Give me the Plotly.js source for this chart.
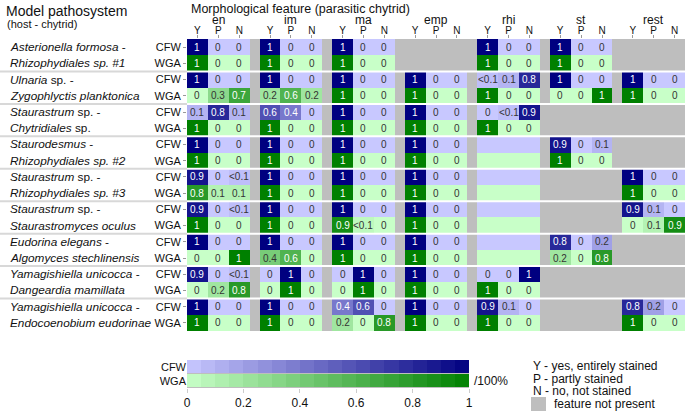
<!DOCTYPE html>
<html>
<head>
<meta charset="utf-8">
<script src="https://cdn.plot.ly/plotly-3.0.1.min.js"></script>
<style>
  html, body { margin: 0; padding: 0; background: #fff; }
  #chart { width: 685px; height: 413px; }
</style>
</head>
<body>
<div id="chart"></div>
<script>
// groups of morphological features, each with Y / P / N columns
var groups = ['en', 'im', 'ma', 'emp', 'rhi', 'st', 'rest'];
var subcols = ['Y', 'P', 'N'];
var stains = ['CFW', 'WGA'];

// two lines per pathosystem (host - chytrid)
var hostLines = [
    ['<i>Asterionella formosa</i> -', '<i>Rhizophydiales sp. #1</i>'],
    ['<i>Ulnaria</i> sp. -', '<i>Zygophlyctis planktonica</i>'],
    ['<i>Staurastrum</i> sp. -', '<i>Chytridiales</i> sp.'],
    ['<i>Staurodesmus</i> -', '<i>Rhizophydiales sp. #2</i>'],
    ['<i>Staurastrum</i> sp. -', '<i>Rhizophydiales sp. #3</i>'],
    ['<i>Staurastrum</i> sp. -', '<i>Staurastromyces oculus</i>'],
    ['<i>Eudorina elegans</i> -', '<i>Algomyces stechlinensis</i>'],
    ['<i>Yamagishiella unicocca</i> -', '<i>Dangeardia mamillata</i>'],
    ['<i>Yamagishiella unicocca</i> -', '<i>Endocoenobium eudorinae</i>']
];

// null = feature not present, '' = present but no value
var cfwVals = [
    [1, 0, 0,      1, 0, 0,      1, 0, 0,      null, null, null, 1, 0, 0,          1, 0, 0,          null, null, null],
    [1, 0, 0,      1, 0, 0,      1, 0, 0,      1, 0, 0,          '<0.1', 0.1, 0.8,   1, 0, 0,          1, 0, 0],
    [0.1, 0.8, 0.1, 0.6, 0.4, 0, 1, 0, 0,      1, 0, 0,          0, '<0.1', 0.9,     null, null, null, null, null, null],
    [1, 0, 0,      1, 0, 0,      1, 0, 0,      1, 0, 0,          '', '', '',         0.9, 0, 0.1,      null, null, null],
    [0.9, 0, '<0.1', 1, 0, 0,    1, 0, 0,      1, 0, 0,          '', '', '',         null, null, null, 1, 0, 0],
    [0.9, 0, '<0.1', 1, 0, 0,    1, 0, 0,      1, 0, 0,          '', '', '',         null, null, null, 0.9, 0.1, 0],
    [1, 0, 0,      1, 0, 0,      1, 0, 0,      1, 0, 0,          '', '', '',         0.8, 0, 0.2,      null, null, null],
    [0.9, 0, '<0.1', 0, 1, 0,    0, 1, 0,      1, 0, 0,          0, 0, 1,            null, null, null, null, null, null],
    [1, 0, 0,      1, 0, 0,      0.4, 0.6, 0,  1, 0, 0,          0.9, 0.1, 0,        null, null, null, 0.8, 0.2, 0]
];
var wgaVals = [
    [1, 0, 0,      1, 0, 0,      1, 0, 0,      null, null, null, 1, 0, 0,          1, 0, 0,          null, null, null],
    [0, 0.3, 0.7,  0.2, 0.6, 0.2, 1, 0, 0,     1, 0, 0,          1, 0, 0,            0, 0, 1,          1, 0, 0],
    [1, 0, 0,      1, 0, 0,      1, 0, 0,      1, 0, 0,          1, 0, 0,            null, null, null, null, null, null],
    [1, 0, 0,      1, 0, 0,      1, 0, 0,      1, 0, 0,          '', '', '',         1, 0, 0,          null, null, null],
    [0.8, 0.1, 0.1, 1, 0, 0,     1, 0, 0,      1, 0, 0,          '', '', '',         null, null, null, 1, 0, 0],
    [1, 0, 0,      1, 0, 0,      0.9, '<0.1', 0, 1, 0, 0,        '', '', '',         null, null, null, 0, 0.1, 0.9],
    [0, 0, 1,      0.4, 0.6, 0,  1, 0, 0,      1, 0, 0,          '', '', '',         0.2, 0, 0.8,      null, null, null],
    [0, 0.2, 0.8,  0, 1, 0,      0, 1, 0,      1, 0, 0,          1, 0, 0,            null, null, null, null, null, null],
    [1, 0, 0,      1, 0, 0,      0.2, 0, 0.8,  1, 0, 0,          1, 0, 0,            null, null, null, 1, 0, 0]
];

// steps of the legend bars
var scaleSteps = [0.025, 0.075, 0.125, 0.175, 0.225, 0.275, 0.325, 0.375, 0.425, 0.475,
                  0.525, 0.575, 0.625, 0.675, 0.725, 0.775, 0.825, 0.875, 0.925, 0.975];
var scaleTicks = [0, 0.2, 0.4, 0.6, 0.8, 1];

var blueScale = [[0, 'rgb(200,200,255)'], [1, 'rgb(0,0,128)']];
var greenScale = [[0, 'rgb(200,255,200)'], [1, 'rgb(0,128,0)']];
var gap = 0.47;
var font = 'Liberation Sans, Arial, sans-serif';

// pixel -> paper helpers (plot area: x 187..685, y 39..413)
function px(x) { return (x - 187) / 498; }
function py(y) { return (413 - y) / 374; }

function toNum(v) {
    if (v === null) return null;
    if (v === '') return 0;
    if (v === '<0.1') return 0.05;
    return v;
}

// x edges with a narrow empty column between the groups
var xEdges = [0];
var cellCenters = [];
var colIsCell = [];
var pos = 0;
for (var g = 0; g < groups.length; g++) {
    for (var k = 0; k < 3; k++) {
        cellCenters.push(pos + 0.5);
        pos += 1;
        xEdges.push(pos);
        colIsCell.push(true);
    }
    if (g < groups.length - 1) {
        pos += gap;
        xEdges.push(pos);
        colIsCell.push(false);
    }
}
var xMax = pos;

var nRows = hostLines.length * 2;
var zC = [], zW = [], rowIdx = [], rowText = [];
var annotations = [];

function addText(x, xref, y, yref, text, size, xanchor) {
    annotations.push({
        x: x, xref: xref, y: y, yref: yref, text: text, showarrow: false,
        xanchor: xanchor || 'center', yanchor: 'middle',
        font: {family: font, size: size, color: '#111'}
    });
}

for (var r = 0; r < nRows; r++) {
    var host = Math.floor(r / 2);
    var isCfw = r % 2 === 0;
    var vals = isCfw ? cfwVals[host] : wgaVals[host];
    var rowZ = [];
    var c = 0;
    for (var j = 0; j < colIsCell.length; j++) {
        if (!colIsCell[j]) { rowZ.push(null); continue; }
        var v = vals[c];
        var num = toNum(v);
        rowZ.push(num);
        if (v !== null && v !== '') {
            var thr = isCfw ? 0.35 : 0.5;
            annotations.push({
                x: cellCenters[c], y: r, xref: 'x', yref: 'y',
                xanchor: 'center', yanchor: 'middle',
                text: v === '<0.1' ? '&lt;0.1' : String(v),
                showarrow: false,
                font: {family: font, size: 10, color: num >= thr ? '#ffffff' : '#333333'}
            });
        }
        c++;
    }
    var nullRow = rowZ.map(function () { return null; });
    zC.push(isCfw ? rowZ : nullRow);
    zW.push(isCfw ? nullRow : rowZ);
    rowIdx.push(r);
    rowText.push(stains[r % 2]);
}

// host names at the left
for (var h = 0; h < hostLines.length; h++) {
    for (var l = 0; l < 2; l++) {
        addText(px(8), 'paper', h * 2 + l, 'y', hostLines[h][l], 11.8, 'left');
    }
}

// group labels
for (var g2 = 0; g2 < groups.length; g2++) {
    addText(g2 * (3 + gap) + 1.5, 'x', py(20), 'paper', groups[g2], 12);
}

// titles
addText(px(4), 'paper', py(11), 'paper', 'Model pathosystem', 14, 'left');
addText(px(5), 'paper', py(24), 'paper', '(host - chytrid)', 11, 'left');
addText(px(189), 'paper', py(9), 'paper', 'Morphological feature (parasitic chytrid)', 12.5, 'left');

// legend texts
var legendLines = ['Y - yes, entirely stained', 'P - partly stained', 'N - no, not stained'];
var legendY = [366, 379, 391];
for (var i = 0; i < legendLines.length; i++) {
    addText(px(531), 'paper', py(legendY[i]), 'paper', legendLines[i], 12, 'left');
}
addText(px(552), 'paper', py(404), 'paper', 'feature not present', 12, 'left');
addText(px(472), 'paper', py(381), 'paper', '/100%', 12, 'left');

// separators between pathosystems
var shapes = [];
for (var s = 1; s < hostLines.length; s++) {
    shapes.push({type: 'line', xref: 'paper', yref: 'y', x0: px(0), x1: 0,
        y0: s * 2 - 0.5, y1: s * 2 - 0.5, line: {color: '#d8d8d8', width: 2}});
    shapes.push({type: 'line', xref: 'paper', yref: 'y', x0: 0, x1: 1,
        y0: s * 2 - 0.5, y1: s * 2 - 0.5, line: {color: '#ffffff', width: 2}});
}
shapes.push({type: 'rect', xref: 'paper', yref: 'paper',
    x0: px(531), x1: px(546), y0: py(411), y1: py(397),
    fillcolor: '#bebebe', line: {width: 0}});

// legend bar edges
var scaleEdges = [0];
for (var e = 0; e < scaleSteps.length; e++) scaleEdges.push((e + 1) / scaleSteps.length);

var traceCfw = {
    type: 'heatmap', x: xEdges, y: rowIdx, z: zC,
    colorscale: blueScale, zmin: 0, zmax: 1, showscale: false, hoverinfo: 'skip'
};
var traceWga = {
    type: 'heatmap', x: xEdges, y: rowIdx, z: zW,
    colorscale: greenScale, zmin: 0, zmax: 1, showscale: false, hoverinfo: 'skip'
};
var barCfw = {
    type: 'heatmap', x: scaleEdges, y: [0], z: [scaleSteps], xaxis: 'x2', yaxis: 'y2',
    colorscale: blueScale, zmin: 0, zmax: 1, showscale: false, hoverinfo: 'skip', ygap: 1
};
var barWga = {
    type: 'heatmap', x: scaleEdges, y: [1], z: [scaleSteps], xaxis: 'x2', yaxis: 'y2',
    colorscale: greenScale, zmin: 0, zmax: 1, showscale: false, hoverinfo: 'skip', ygap: 1
};

var layout = {
    width: 685, height: 413,
    margin: {l: 187, r: 0, t: 39, b: 0},
    paper_bgcolor: '#ffffff',
    plot_bgcolor: '#bebebe',
    showlegend: false,
    font: {family: font, color: '#111'},
    xaxis: {
        domain: [0, 1], range: [0, xMax], side: 'top',
        tickvals: cellCenters, ticktext: cellCenters.map(function (_, i) { return subcols[i % 3]; }),
        ticks: 'outside', ticklen: 3, tickcolor: '#999', ticklabelstandoff: -3,
        tickfont: {size: 10, color: '#111'},
        showgrid: false, zeroline: false, showline: false, fixedrange: true
    },
    yaxis: {
        domain: [py(331), 1], range: [nRows - 0.5, -0.5],
        tickvals: rowIdx, ticktext: rowText,
        ticks: 'outside', ticklen: 3, tickcolor: '#999',
        tickfont: {size: 11, color: '#111'},
        showgrid: false, zeroline: false, showline: false, fixedrange: true
    },
    xaxis2: {
        domain: [0, px(469)], range: [0, 1], anchor: 'y2',
        tickvals: scaleTicks, ticktext: scaleTicks.map(String),
        ticks: 'outside', ticklen: 4, tickcolor: '#ccc',
        tickfont: {size: 12, color: '#111'},
        showgrid: false, zeroline: false, showline: false, fixedrange: true
    },
    yaxis2: {
        domain: [py(388), py(360)], range: [1.5, -0.5], anchor: 'x2',
        tickvals: [0, 1], ticktext: stains, ticks: '',
        tickfont: {size: 11, color: '#111'},
        showgrid: false, zeroline: false, showline: false, fixedrange: true
    },
    annotations: annotations,
    shapes: shapes
};

Plotly.newPlot('chart', [traceCfw, traceWga, barCfw, barWga], layout, {staticPlot: true});
</script>
</body>
</html>
